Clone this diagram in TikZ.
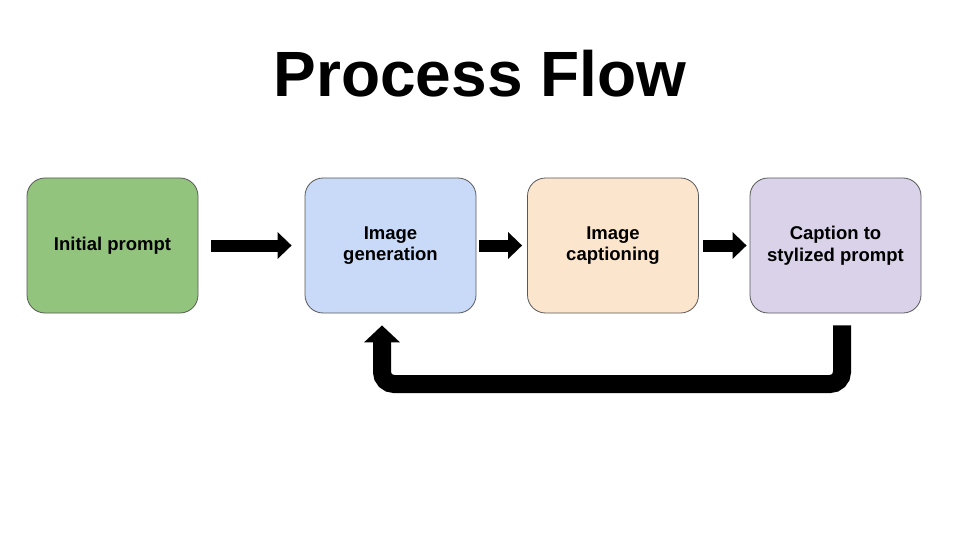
\documentclass[tikz,border=0pt]{standalone}
\usepackage{fontspec}
\setmainfont{Liberation Sans}
\usetikzlibrary{arrows.meta}
\definecolor{initgreen}{HTML}{93C47D}
\definecolor{genblue}{HTML}{C9DAF8}
\definecolor{capcream}{HTML}{FCE5CD}
\definecolor{stylelilac}{HTML}{D9D2E9}
\def\BoxFont{\fontsize{18.5}{21.5}\selectfont\bfseries}
\begin{document}
\begin{tikzpicture}[x=1pt,y=-1pt,
  stage/.style={draw=black!65,line width=0.8pt,rounded corners=18pt,
    minimum width=171pt,minimum height=135pt,align=center,font=\BoxFont},
  flow/.style={line width=12pt,-{Triangle[length=14pt,width=26pt]}},
  loopback/.style={line width=18pt,rounded corners=12pt,-{Triangle[length=17pt,width=35pt]}}]
\fill[white] (0,0) rectangle (960,540);
\useasboundingbox (0,0) rectangle (960,540);
\node[anchor=base,font=\fontsize{64}{64}\selectfont\bfseries] (title) at (480,97) {Process Flow};
% the four stages
\node[stage,fill=initgreen] (init) at (112.5,245.5) {Initial prompt};
\node[stage,fill=genblue] (gen) at (390.5,245.5) {Image\\generation};
\node[stage,fill=capcream] (capt) at (613,245.5) {Image\\captioning};
\node[stage,fill=stylelilac] (styl) at (835.5,245.5) {Caption to\\stylized prompt};
\draw[flow,shorten <=13pt,shorten >=13pt] (init) -- (gen);
\draw[flow,shorten <=3pt,shorten >=5pt] (gen) -- (capt);
\draw[flow,shorten <=4pt,shorten >=3pt] (capt) -- (styl);
% feedback loop
\coordinate (fbA) at ([xshift=6.5pt,yshift=-12pt]styl.south);
\coordinate (fbB) at ([xshift=-8.5pt,yshift=-12pt]gen.south);
\coordinate (fbM) at (612,384);
\draw[loopback] (fbA) |- (fbM) -| (fbB);
\end{tikzpicture}
\end{document}
